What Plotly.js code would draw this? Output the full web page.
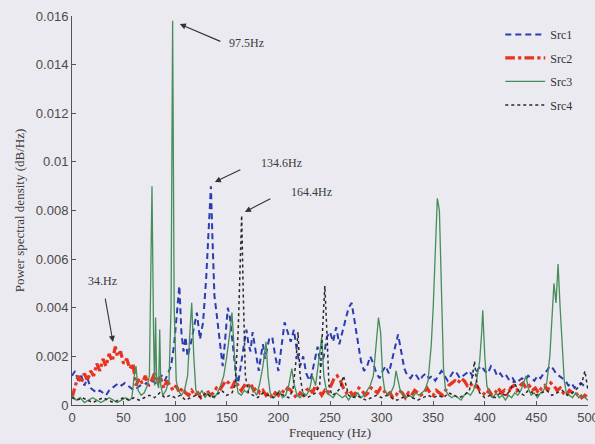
<!DOCTYPE html>
<html>
<head>
<meta charset="utf-8">
<script src="https://cdn.plot.ly/plotly-3.0.1.min.js"></script>
<style>
  html, body { margin: 0; padding: 0; background: #ebeaf0; }
  #chart { width: 595px; height: 444px; }
</style>
</head>
<body>
<div id="chart"></div>
<script>
// Power spectral density of four separated sources (dB/Hz) versus frequency (Hz)

const src1Freq = [0,3,6,9,12,15,18,21,24,27,30,33,36,39,42,45,48,51,54,57,60,63,66,69,72,75,78,81,84,87,90,93,96,99,102,104,106,108,110,112,115,118,121,124,127,130,132,134.6,136,138,140,142,144,146,148,151,153,155,157,159,161,163,165,167,169,171,173,175,177,179,181,183,185,187,189,191,194,197,200,203,206,209,212,215,218,221,224,227,230,232,235,238,241,244,247,250,253,256,259,262,265,268,271,274,277,280,283,286,289,292,295,298,301,304,307,310,313,316,319,322,325,328,331,334,337,340,343,346,349,352,355,358,361,364,367,370,373,376,379,382,385,388,391,394,397,400,403,406,409,412,415,418,421,424,427,430,433,436,439,442,445,448,451,454,457,460,463,466,469,472,475,478,481,484,487,490,493,496,500];
const src1Psd = [0.0012,0.0014,0.0010,0.0012,0.0008,0.0011,0.0007,0.0006,0.0005,0.0006,0.0005,0.0004,0.0006,0.0007,0.0008,0.0009,0.0008,0.0009,0.0008,0.0007,0.0006,0.0007,0.0008,0.0008,0.0009,0.0008,0.0010,0.0009,0.0011,0.0012,0.0010,0.0013,0.0016,0.0025,0.0038,0.0049,0.0030,0.0022,0.0028,0.0020,0.0025,0.0031,0.0038,0.0027,0.0034,0.0052,0.0068,0.0090,0.0070,0.0045,0.0038,0.0030,0.0022,0.0016,0.0025,0.0040,0.0036,0.0028,0.0020,0.0012,0.0009,0.0014,0.0020,0.0026,0.0031,0.0025,0.0022,0.0030,0.0024,0.0018,0.0014,0.0020,0.0025,0.0019,0.0023,0.0027,0.0028,0.0020,0.0014,0.0024,0.0034,0.0030,0.0026,0.0031,0.0022,0.0016,0.0020,0.0013,0.0010,0.0012,0.0018,0.0024,0.0016,0.0020,0.0028,0.0030,0.0026,0.0032,0.0025,0.0030,0.0036,0.0040,0.0042,0.0034,0.0026,0.0018,0.0014,0.0016,0.0020,0.0017,0.0013,0.0011,0.0014,0.0016,0.0013,0.0018,0.0024,0.0029,0.0022,0.0015,0.0012,0.0011,0.0013,0.0012,0.0010,0.0012,0.0013,0.0011,0.0012,0.0010,0.0012,0.0014,0.0012,0.0010,0.0012,0.0014,0.0013,0.0011,0.0012,0.0013,0.0014,0.0012,0.0013,0.0015,0.0016,0.0014,0.0013,0.0016,0.0015,0.0012,0.0013,0.0011,0.0012,0.0010,0.0011,0.0009,0.0010,0.0011,0.0010,0.0012,0.0011,0.0010,0.0012,0.0011,0.0013,0.0014,0.0016,0.0015,0.0013,0.0012,0.0011,0.0010,0.0008,0.0009,0.0007,0.0008,0.0009,0.0008,0.0007];

const src2Freq = [0,3,6,9,12,15,18,21,24,27,30,33,36,39,42,44,47,50,53,56,59,62,65,68,71,74,77,80,83,86,89,92,95,98,101,104,107,110,113,116,119,122,125,128,131,134,137,140,143,146,149,152,155,158,161,164,167,170,173,176,179,182,185,188,191,194,197,200,203,206,209,212,215,218,221,224,227,230,233,236,239,242,245,248,251,254,257,260,263,266,269,272,275,278,281,284,287,290,293,296,299,302,305,308,311,314,317,320,323,326,329,332,335,338,341,344,347,350,353,356,359,362,365,368,371,374,377,380,383,386,389,392,395,398,401,404,407,410,413,416,419,422,425,428,431,434,437,440,443,446,449,452,455,458,461,464,467,470,473,476,479,482,485,488,491,494,497,500];
const src2Psd = [0.0003,0.0008,0.0012,0.0009,0.0013,0.0010,0.0014,0.0012,0.0017,0.0014,0.0019,0.0016,0.0021,0.0018,0.0024,0.0020,0.0022,0.0017,0.0019,0.0015,0.0017,0.0008,0.0011,0.0009,0.0012,0.0008,0.0010,0.0013,0.0009,0.0011,0.0007,0.0010,0.0008,0.0006,0.0008,0.0005,0.0007,0.0005,0.0004,0.0006,0.0004,0.0005,0.0003,0.0004,0.0006,0.0004,0.0005,0.0007,0.0006,0.0008,0.0010,0.0009,0.0007,0.0010,0.0008,0.0006,0.0008,0.0007,0.0009,0.0006,0.0007,0.0005,0.0006,0.0004,0.0005,0.0003,0.0005,0.0004,0.0006,0.0005,0.0007,0.0006,0.0004,0.0003,0.0005,0.0004,0.0006,0.0007,0.0005,0.0008,0.0006,0.0004,0.0006,0.0005,0.0008,0.0011,0.0012,0.0010,0.0007,0.0005,0.0006,0.0004,0.0005,0.0007,0.0006,0.0004,0.0005,0.0007,0.0006,0.0005,0.0007,0.0006,0.0004,0.0005,0.0003,0.0004,0.0006,0.0005,0.0003,0.0005,0.0004,0.0006,0.0005,0.0004,0.0005,0.0007,0.0005,0.0004,0.0006,0.0005,0.0004,0.0006,0.0008,0.0009,0.0010,0.0009,0.0011,0.0010,0.0008,0.0009,0.0007,0.0008,0.0006,0.0005,0.0004,0.0006,0.0004,0.0005,0.0007,0.0005,0.0006,0.0004,0.0007,0.0008,0.0006,0.0008,0.0009,0.0007,0.0008,0.0006,0.0007,0.0005,0.0007,0.0008,0.0006,0.0009,0.0008,0.0006,0.0007,0.0005,0.0004,0.0006,0.0005,0.0004,0.0005,0.0003,0.0004,0.0003];

const src3Freq = [0,4,8,12,16,20,24,28,32,36,40,44,48,52,56,58,60,62,64,67,70,73,75,77.5,79,80,81,82,84,85,86,88,91,94,96,97.5,99,101,103,106,109,112,114,116,118,120,123,126,129,132,135,138,141,144,147,150,153,155,157,159,161,164,167,170,173,176,179,182,185,188,190,192,195,198,201,204,207,210,213,215,218,221,224,227,230,233,236,239,242,244,247,250,253,256,259,262,265,268,271,274,277,280,283,286,289,292,295,297,299,301,303,306,309,312,314,316,318,321,324,327,330,333,336,339,342,345,348,350,352,354,356,358,360,362,365,368,371,374,377,380,383,386,389,392,395,397,398,400,402,405,408,411,414,417,420,423,426,429,432,435,438,440,442,445,448,451,454,457,460,463,465,467,469,471,473,475,477,479,482,485,488,491,494,497,500];
const src3Psd = [0.0004,0.0002,0.0003,0.0001,0.0002,0.0003,0.0002,0.0001,0.0002,0.0003,0.0002,0.0001,0.0002,0.0003,0.0002,0.0003,0.0011,0.0016,0.0006,0.0004,0.0005,0.0008,0.0012,0.0090,0.0030,0.0008,0.0036,0.0010,0.0007,0.0031,0.0008,0.0004,0.0006,0.0010,0.0040,0.0158,0.0040,0.0010,0.0006,0.0004,0.0006,0.0012,0.0028,0.0042,0.0020,0.0006,0.0004,0.0006,0.0003,0.0005,0.0004,0.0003,0.0005,0.0008,0.0012,0.0020,0.0030,0.0038,0.0024,0.0010,0.0005,0.0004,0.0006,0.0005,0.0008,0.0006,0.0004,0.0009,0.0016,0.0026,0.0012,0.0005,0.0003,0.0004,0.0006,0.0003,0.0004,0.0008,0.0015,0.0009,0.0004,0.0003,0.0005,0.0004,0.0006,0.0012,0.0008,0.0018,0.0028,0.0012,0.0005,0.0004,0.0003,0.0005,0.0004,0.0003,0.0004,0.0002,0.0004,0.0003,0.0005,0.0003,0.0004,0.0006,0.0008,0.0012,0.0026,0.0036,0.0030,0.0012,0.0006,0.0004,0.0005,0.0008,0.0014,0.0010,0.0006,0.0004,0.0003,0.0004,0.0003,0.0005,0.0004,0.0005,0.0006,0.0010,0.0024,0.0040,0.0065,0.0085,0.0080,0.0045,0.0015,0.0006,0.0004,0.0003,0.0004,0.0003,0.0002,0.0004,0.0005,0.0004,0.0006,0.0010,0.0018,0.0030,0.0039,0.0020,0.0008,0.0004,0.0003,0.0005,0.0003,0.0004,0.0002,0.0004,0.0003,0.0005,0.0004,0.0006,0.0010,0.0012,0.0007,0.0004,0.0005,0.0003,0.0005,0.0006,0.0009,0.0020,0.0035,0.0050,0.0042,0.0058,0.0040,0.0022,0.0010,0.0005,0.0004,0.0003,0.0005,0.0003,0.0004,0.0003,0.0002];

const src4Freq = [0,5,10,15,20,25,30,35,40,45,50,55,60,65,70,75,80,85,90,95,100,105,110,115,120,125,130,135,140,145,150,155,158,161,163,164.4,166,168,171,175,180,185,190,195,200,205,210,214,217,219,221,224,228,232,236,240,243,245,247,249,252,256,260,263,265,268,272,276,280,285,290,295,300,305,310,315,320,325,330,335,340,345,350,355,360,365,370,375,380,385,388,390,392,395,400,405,410,415,420,425,428,430,434,438,442,446,450,455,460,465,470,475,480,485,490,494,497,500];
const src4Psd = [0.0003,0.0002,0.0003,0.0002,0.0001,0.0002,0.0003,0.0002,0.0001,0.0002,0.0003,0.0002,0.0003,0.0002,0.0003,0.0004,0.0003,0.0005,0.0003,0.0004,0.0003,0.0004,0.0002,0.0003,0.0004,0.0003,0.0005,0.0003,0.0004,0.0006,0.0004,0.0005,0.0008,0.0030,0.0060,0.0078,0.0045,0.0012,0.0005,0.0004,0.0003,0.0005,0.0004,0.0003,0.0005,0.0004,0.0003,0.0006,0.0018,0.0030,0.0012,0.0004,0.0003,0.0004,0.0005,0.0008,0.0030,0.0049,0.0030,0.0008,0.0004,0.0005,0.0007,0.0012,0.0009,0.0004,0.0003,0.0004,0.0003,0.0002,0.0003,0.0004,0.0003,0.0004,0.0003,0.0002,0.0003,0.0004,0.0003,0.0002,0.0003,0.0004,0.0003,0.0004,0.0003,0.0005,0.0004,0.0003,0.0004,0.0006,0.0012,0.0018,0.0010,0.0005,0.0003,0.0004,0.0003,0.0005,0.0004,0.0006,0.0010,0.0008,0.0005,0.0004,0.0006,0.0005,0.0004,0.0005,0.0006,0.0004,0.0005,0.0006,0.0004,0.0005,0.0007,0.0009,0.0014,0.0006];

const seriesNames = ['Src1', 'Src2', 'Src3', 'Src4'];

const yTickVals = [0, 0.002, 0.004, 0.006, 0.008, 0.01, 0.012, 0.014, 0.016];
const yTickText = ['0', '0.002', '0.004', '0.006', '0.008', '0.01', '0.012', '0.014', '0.016'];
const xTickVals = [0, 50, 100, 150, 200, 250, 300, 350, 400, 450, 500];

// Peak callouts: label, peak frequency/PSD the arrow points at
const peakLabels = ['97.5Hz', '134.6Hz', '164.4Hz', '34.Hz'];
const peakFreq = [104.5, 138.4, 167.5, 39.7];
const peakPsd = [0.01567, 0.00917, 0.00794, 0.00259];

const serif = 'Liberation Serif, Times New Roman, serif';
const sans = 'Liberation Sans, Arial, sans-serif';

const traces = [
  { x: src1Freq, y: src1Psd, name: seriesNames[0], legendgroup: 'a', mode: 'lines',
    line: { color: '#2a3cb0', width: 2, dash: '6px,4px' } },
  { x: src2Freq, y: src2Psd, name: seriesNames[1], legendgroup: 'b', mode: 'lines',
    line: { color: '#e8331f', width: 3.2, dash: 'dashdot' } },
  { x: src3Freq, y: src3Psd, name: seriesNames[2], legendgroup: 'c', mode: 'lines',
    line: { color: '#468d5a', width: 1.3 } },
  { x: src4Freq, y: src4Psd, name: seriesNames[3], legendgroup: 'd', mode: 'lines',
    line: { color: '#2a2a2a', width: 1.5, dash: 'dot' } }
];

// label offsets (px) relative to the arrow tip, and arrow tail offsets
const labelDx = [67, 67, 67, -10];
const labelDy = [19, -19, -20, -61];
const arrowDx = [42, 27, 27, -8];
const arrowDy = [18, -13, -14, -45];

const annotations = [];
peakLabels.forEach((txt, i) => {
  annotations.push({
    x: peakFreq[i], y: peakPsd[i], xref: 'x', yref: 'y',
    text: txt, showarrow: false,
    xshift: labelDx[i], yshift: -labelDy[i],
    font: { family: serif, size: 12, color: '#3a3a3a' }
  });
  annotations.push({
    x: peakFreq[i], y: peakPsd[i], xref: 'x', yref: 'y',
    text: '', showarrow: true, ax: arrowDx[i], ay: arrowDy[i],
    arrowhead: 2, arrowsize: 1.1, arrowwidth: 1.1, arrowcolor: '#333333'
  });
});

const layout = {
  width: 595, height: 444,
  margin: { l: 72, r: 7, t: 16, b: 39 },
  paper_bgcolor: '#ebeaf0',
  plot_bgcolor: '#ebeaf0',
  showlegend: true,
  legend: {
    x: 0.83, y: 0.99, xanchor: 'left', yanchor: 'top',
    bgcolor: 'rgba(0,0,0,0)',
    font: { family: serif, size: 12, color: '#333333' },
    itemwidth: 40,
    tracegroupgap: 4.5
  },
  xaxis: {
    range: [0, 500], tickvals: xTickVals,
    showgrid: false, zeroline: false,
    showline: true, linecolor: '#555555', linewidth: 1,
    ticks: 'inside', ticklen: 4, tickcolor: '#555555',
    ticklabeloverflow: 'allow',
    tickfont: { family: sans, size: 13, color: '#4a4a4a' },
    title: { text: 'Frequency (Hz)', font: { family: serif, size: 13, color: '#3a3a3a' }, standoff: 4 }
  },
  yaxis: {
    range: [0, 0.016], tickvals: yTickVals, ticktext: yTickText,
    showgrid: false, zeroline: false,
    showline: true, linecolor: '#555555', linewidth: 1,
    ticks: 'inside', ticklen: 4, tickcolor: '#555555',
    tickfont: { family: sans, size: 13, color: '#4a4a4a' },
    title: { text: 'Power spectral density (dB/Hz)', font: { family: serif, size: 13, color: '#3a3a3a' }, standoff: 8 }
  },
  annotations: annotations
};

Plotly.newPlot('chart', traces, layout, { displayModeBar: false, staticPlot: true });
</script>
</body>
</html>
